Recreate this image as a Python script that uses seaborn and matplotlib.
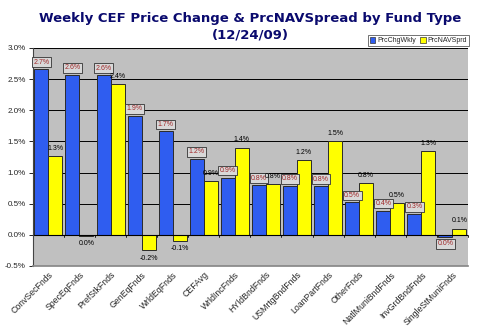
import matplotlib
matplotlib.use("Agg")
import matplotlib.pyplot as plt
import seaborn as sns
import pandas as pd
from matplotlib.ticker import FuncFormatter, MultipleLocator
from matplotlib.patches import Patch

categories = ["ConvSecFnds", "SpecEqFnds", "PrefStkFnds", "GenEqFnds", "WrldEqFnds",
              "CEFAvg", "WrldIncFnds", "HYldBndFnds", "USMrtgBndFnds", "LoanPartFnds",
              "OtherFnds", "NatlMuniBndFnds", "InvGrdBndFnds", "SingleStMuniFnds"]
prc_chg_wkly = [2.66, 2.57, 2.56, 1.91, 1.66, 1.22, 0.92, 0.80, 0.79, 0.78,
                0.52, 0.39, 0.34, -0.03]
prc_nav_sprd = [1.27, -0.02, 2.42, -0.25, -0.10, 0.86, 1.40, 0.82, 1.20, 1.51,
                0.83, 0.51, 1.34, 0.10]
series_names = ["PrcChgWkly", "PrcNAVSprd"]

df = pd.DataFrame({
    "cat": categories * 2,
    "series": [series_names[0]] * len(categories) + [series_names[1]] * len(categories),
    "val": prc_chg_wkly + prc_nav_sprd,
})


def fmt(v):
    r = round(v, 1)
    if r == 0:
        r = 0.0
    return f"{abs(r) if r == 0 else r:.1f}%"


sns.set_theme(style="white")
plt.rcParams['font.family'] = ['Liberation Sans', 'DejaVu Sans']

BLUE = "#2F5DF0"
YEL = "#FFFF00"

fig = plt.figure(figsize=(4.9, 3.35), dpi=100)
fig.patch.set_facecolor("white")
ax = fig.add_axes([0.067, 0.206, 0.888, 0.651])
ax.set_facecolor("#C0C0C0")

sns.barplot(data=df, x="cat", y="val", hue="series", order=categories,
            hue_order=series_names, palette=[BLUE, YEL], saturation=1,
            edgecolor="#2A2A2A", linewidth=0.7, width=0.9, ax=ax, legend=False)

ax.set_ylim(-0.5, 3.0)
ax.yaxis.set_major_locator(MultipleLocator(0.5))
ax.yaxis.set_major_formatter(FuncFormatter(lambda v, p: f"{v:.1f}%"))
ax.grid(axis="y", color="black", linewidth=0.7)
ax.set_axisbelow(True)
ax.set_xlabel("")
ax.set_ylabel("")
ax.set_xlim(-0.5, len(categories) - 0.5)

ax.set_xticks(range(len(categories)))
ax.set_xticklabels(categories, rotation=45, ha="right", rotation_mode="anchor",
                   fontsize=6.3)
ax.tick_params(axis="x", length=0, pad=3)
ax.tick_params(axis="y", labelsize=5.8, length=3, width=0.6, color="black", pad=2, left=True)
for i in range(len(categories) + 1):
    ax.plot([i - 0.5, i - 0.5], [0, -0.03], color="black", lw=0.6, clip_on=False)
ax.axhline(0, color="black", lw=0.8)

for sp in ["top", "right"]:
    ax.spines[sp].set_visible(False)
ax.spines["left"].set_color("#444444")
ax.spines["bottom"].set_color("#888888")
ax.spines["left"].set_linewidth(0.8)

c_blue, c_yel = ax.containers[0], ax.containers[1]
ax.bar_label(c_blue, labels=[fmt(v) for v in prc_chg_wkly], padding=2.5,
             fontsize=5.0, color="#A0282A",
             bbox=dict(boxstyle="square,pad=0.2", fc="#D8D8D8", ec="#333333", lw=0.6))
ax.bar_label(c_yel, labels=[fmt(v) for v in prc_nav_sprd], padding=3,
             fontsize=5.0, color="black")

fig.text(0.51, 0.945, "Weekly CEF Price Change & PrcNAVSpread by Fund Type",
         ha="center", va="center", fontsize=9.5, fontweight="heavy", color="#0A0A6E",
         family="DejaVu Sans")
fig.text(0.51, 0.895, "(12/24/09)", ha="center", va="center", fontsize=9.5,
         fontweight="heavy", color="#0A0A6E", family="DejaVu Sans")

handles = [Patch(facecolor=BLUE, edgecolor="#333333", lw=0.5),
           Patch(facecolor=YEL, edgecolor="#333333", lw=0.5)]
leg = fig.legend(handles, series_names, loc="upper right", bbox_to_anchor=(0.958, 0.895),
                 ncol=2, fontsize=5.0, frameon=True, fancybox=False, handlelength=0.8,
                 handleheight=0.8, handletextpad=0.3, columnspacing=0.6,
                 borderpad=0.3, borderaxespad=0)
leg.get_frame().set_edgecolor("#333333")
leg.get_frame().set_linewidth(0.6)

fig.savefig("out.png", dpi=100, facecolor="white")
